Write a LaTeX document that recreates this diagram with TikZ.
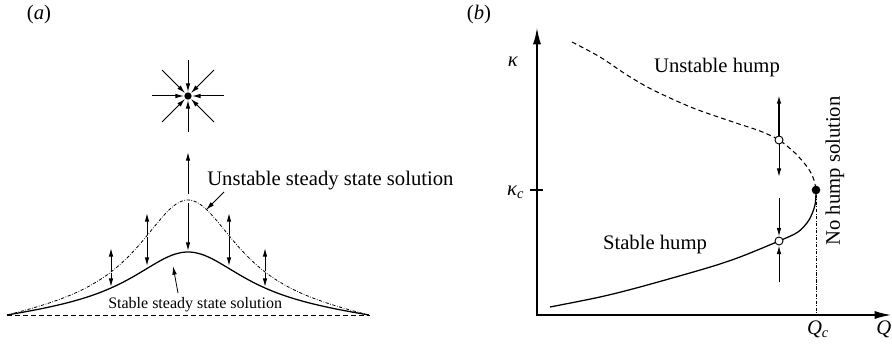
\documentclass[tikz,border=0pt]{standalone}
\usepackage{fontspec}
\setmainfont{Liberation Serif}
\usetikzlibrary{arrows.meta, calc}
\tikzset{
  flow/.style={-{Latex[length=6.5pt, width=3.4pt]}, line width=0.75pt},
  axis/.style={{Latex[length=13pt, width=6pt]}-{Latex[length=13pt, width=6pt]}, line width=1.6pt},
  unstab/.style={line width=0.6pt, dash pattern=on 2.4pt off 1.2pt on 0.5pt off 1.2pt},
  stab/.style={line width=0.95pt},
  bigtxt/.style={font=\fontsize{15.5}{18}\selectfont},
  smalltxt/.style={font=\fontsize{12}{14}\selectfont},
  sink/.style={circle, fill=black, inner sep=0pt, minimum size=5.5pt},
  fixpt/.style={circle, draw, line width=0.7pt, fill=white, inner sep=0pt, minimum size=6pt}
}

\begin{document}
\begin{tikzpicture}[x=0.75pt, y=-0.75pt]
\useasboundingbox (0,0) rectangle (892,346);

% Panel tags
\node[bigtxt] (tag_a) at (39,15) {(\textit{a})};
\node[bigtxt] (tag_b) at (479,15) {(\textit{b})};

% (a) Attractor
\node[sink] (attr) at (188,96) {};
\coordinate (s_n) at (188,60);
\coordinate (s_s) at (188,132);
\coordinate (s_w) at (152,96);
\coordinate (s_e) at (224,96);
\coordinate (s_nw) at (162,70);
\coordinate (s_ne) at (214,70);
\coordinate (s_sw) at (162,122);
\coordinate (s_se) at (214,122);
\draw[flow] (s_n) -- (attr);
\draw[flow] (s_s) -- (attr);
\draw[flow] (s_w) -- (attr);
\draw[flow] (s_e) -- (attr);
\draw[flow] (s_nw) -- (attr);
\draw[flow] (s_ne) -- (attr);
\draw[flow] (s_sw) -- (attr);
\draw[flow] (s_se) -- (attr);

% (a) Flat state and hump profiles
\coordinate (base_l) at (7,315);
\coordinate (base_r) at (370,315);
\draw[line width=0.6pt, dash pattern=on 3.5pt off 2.5pt] (base_l) -- (base_r);
\draw[unstab] plot[domain=-1.81:1.81, samples=161] ({188+100*\x}, {315-115*(0.3844/(0.3844+\x*\x) - 0.105*\x*\x/3.2761)});
\draw[stab] plot[domain=-1.81:1.81, samples=161] ({188+100*\x}, {315-63*(0.49/(0.49+\x*\x) - 0.130*\x*\x/3.2761)});

% (a) Perturbation arrows
\coordinate (pk_u) at (188,194);
\coordinate (pk_d) at (188,203);
\draw[flow] (pk_u) -- ++(0,-42);
\draw[flow] (pk_d) -- (188,251);
\coordinate (p1) at (111,271);
\coordinate (p2) at (147,235);
\coordinate (p3) at (229,235);
\coordinate (p4) at (265,271);
\draw[flow] (p1) -- ++(0,-23);
\draw[flow] ([yshift=-1.5pt]p1) -- ++(0,14);
\draw[flow] (p2) -- ++(0,-22);
\draw[flow] ([yshift=-1.5pt]p2) -- ++(0,29);
\draw[flow] (p3) -- ++(0,-22);
\draw[flow] ([yshift=-1.5pt]p3) -- ++(0,29);
\draw[flow] (p4) -- ++(0,-23);
\draw[flow] ([yshift=-1.5pt]p4) -- ++(0,14);

% (a) Labels
\node[bigtxt, anchor=base west, inner sep=0pt] (unst_txt) at (207,185) {Unstable steady state solution};
\node[smalltxt, anchor=base west, inner sep=0pt] (stab_txt) at (108,308) {Stable steady state solution};
\coordinate (unst_tip) at (206,210);
\coordinate (stab_tip) at (173,266);
\draw[flow, line width=0.6pt] ($(unst_txt.base west)+(17,7)$) -- (unst_tip);
\draw[flow, line width=0.6pt] ($(stab_txt.base west)+(70,-15)$) -- (stab_tip);

% (b) Axes
\coordinate (orig) at (537,315);
\coordinate (ytop) at (537,27);
\coordinate (xend) at (892,315);
\draw[axis] (ytop) |- (xend);
\draw[line width=0.8pt] (530,190) -- (543,190);
\node[bigtxt] (kap) at (513,62) {\textit{κ}};
\node[bigtxt, anchor=east] (kapc) at (529,192) {\textit{κ}\textsubscript{\textit{c}}};
\node[bigtxt] (qc) at (818,329) {\textit{Q}\textsubscript{\textit{c}}};
\node[bigtxt, anchor=west, inner sep=0pt] (qq) at (876,329) {\textit{Q}};

% (b) Solution branches
\node[sink, minimum size=6.5pt] (fold) at (816,190) {};
\draw[line width=0.8pt, dash pattern=on 3.5pt off 2.5pt] plot[smooth] coordinates {(572,42) (600,57) (627,75) (653,90) (693,108) (733,122) (760,131) (779,140) (795,153) (808,168) (814,180) (816,190)};
\draw[stab] plot[smooth] coordinates {(816,190) (815,205) (809,220) (798,232) (779,241) (740,257) (707,268) (640,287) (600,297) (550,307)};
\draw[unstab] (fold) -- (fold |- orig);
\node[fixpt] (fp_up) at (779,140) {};
\node[fixpt] (fp_lo) at (779,241) {};

% (b) Stability arrows
\coordinate (q1) at (779,95);
\coordinate (q2) at (779,177);
\coordinate (q3) at (779,198);
\coordinate (q4) at (779,282);
\draw[flow, line width=1.1pt] (fp_up) -- (q1);
\draw[flow] (fp_up) -- (q2);
\draw[flow] (q3) -- (fp_lo);
\draw[flow] (q4) -- (fp_lo);

% (b) Labels
\node[bigtxt] (unst_hump) at (717,68) {Unstable hump};
\node[bigtxt] (stab_hump) at (655,245) {Stable hump};
\node[bigtxt, rotate=90] (no_hump) at (835,171) {No hump solution};

\end{tikzpicture}
\end{document}
